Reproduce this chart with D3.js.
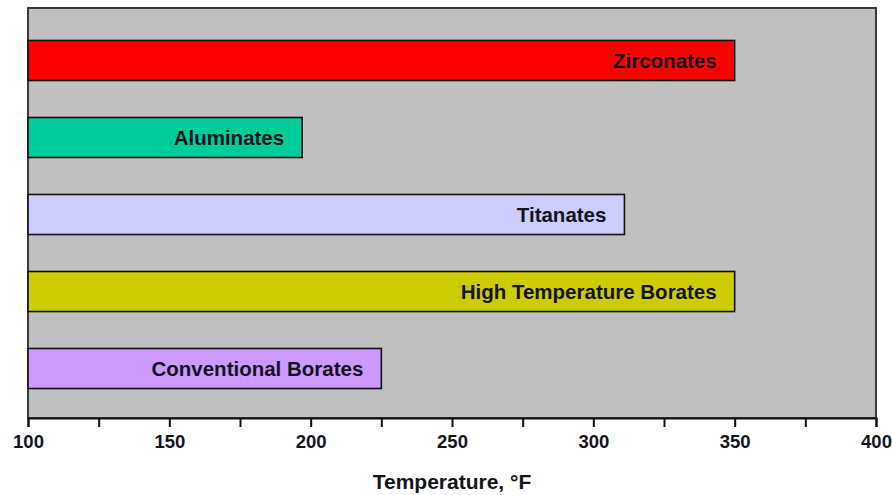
<!DOCTYPE html>
<html>
<head>
<meta charset="utf-8">
<script src="https://cdn.jsdelivr.net/npm/d3@7"></script>
<style>
  html, body { margin: 0; padding: 0; background: #fff; }
  svg { display: block; }
  text { font-family: "Liberation Sans", Arial, sans-serif; font-weight: bold; }
</style>
</head>
<body>
<script>
// Crosslinker types and their maximum service temperature (°F)
const categories = ["Zirconates", "Aluminates", "Titanates", "High Temperature Borates", "Conventional Borates"];
const temperatures = [350, 197, 311, 350, 225];
const barColors = ["#ff0000", "#00cc99", "#ccccff", "#cccc00", "#cc99ff"];
const tickValues = [100, 125, 150, 175, 200, 225, 250, 275, 300, 325, 350, 375, 400];
const axisTitle = "Temperature, °F";

const W = 892, H = 495;
const plot = { left: 28, right: 876, top: 8, bottom: 418 };

const svg = d3.select("body").append("svg").attr("width", W).attr("height", H);

const x = d3.scaleLinear().domain([100, 400]).range([plot.left, plot.right]);
const y = d3.scaleBand().domain(categories).range([22, 407]).paddingInner(0.48).paddingOuter(0.24);

// plot background
svg.append("rect")
  .attr("x", plot.left).attr("y", plot.top)
  .attr("width", plot.right - plot.left).attr("height", plot.bottom - plot.top)
  .attr("fill", "#c0c0c0").attr("stroke", "#3a3a3a").attr("stroke-width", 2);

// bars
svg.append("g").selectAll("rect").data(categories).join("rect")
  .attr("x", x(100))
  .attr("y", d => y(d))
  .attr("width", (d, i) => x(temperatures[i]) - x(100))
  .attr("height", y.bandwidth())
  .attr("fill", (d, i) => barColors[i])
  .attr("stroke", "#111").attr("stroke-width", 1.6);

// labels inside bar ends
svg.append("g").selectAll("text").data(categories).join("text")
  .attr("x", (d, i) => x(temperatures[i]) - 18)
  .attr("y", d => y(d) + y.bandwidth() / 2)
  .attr("dy", "0.36em")
  .attr("text-anchor", "end")
  .attr("font-size", 20.5)
  .attr("fill", "#141420")
  .text(d => d);

// x axis
const axis = d3.axisBottom(x)
  .tickValues(tickValues)
  .tickSize(9)
  .tickPadding(8)
  .tickFormat(v => v % 50 === 0 ? v : "");

const gx = svg.append("g").attr("transform", `translate(0,${plot.bottom})`).call(axis);
gx.select(".domain").attr("stroke", "#111").attr("stroke-width", 2);
gx.selectAll(".tick line").attr("stroke", "#111").attr("stroke-width", 2);
gx.selectAll(".tick text")
  .attr("font-size", 18.5)
  .attr("font-family", "'Liberation Sans', Arial, sans-serif")
  .attr("font-weight", "bold")
  .attr("fill", "#141420");

svg.append("text")
  .attr("x", (plot.left + plot.right) / 2)
  .attr("y", 489)
  .attr("text-anchor", "middle")
  .attr("font-size", 21)
  .attr("fill", "#141420")
  .text(axisTitle);
</script>
</body>
</html>
